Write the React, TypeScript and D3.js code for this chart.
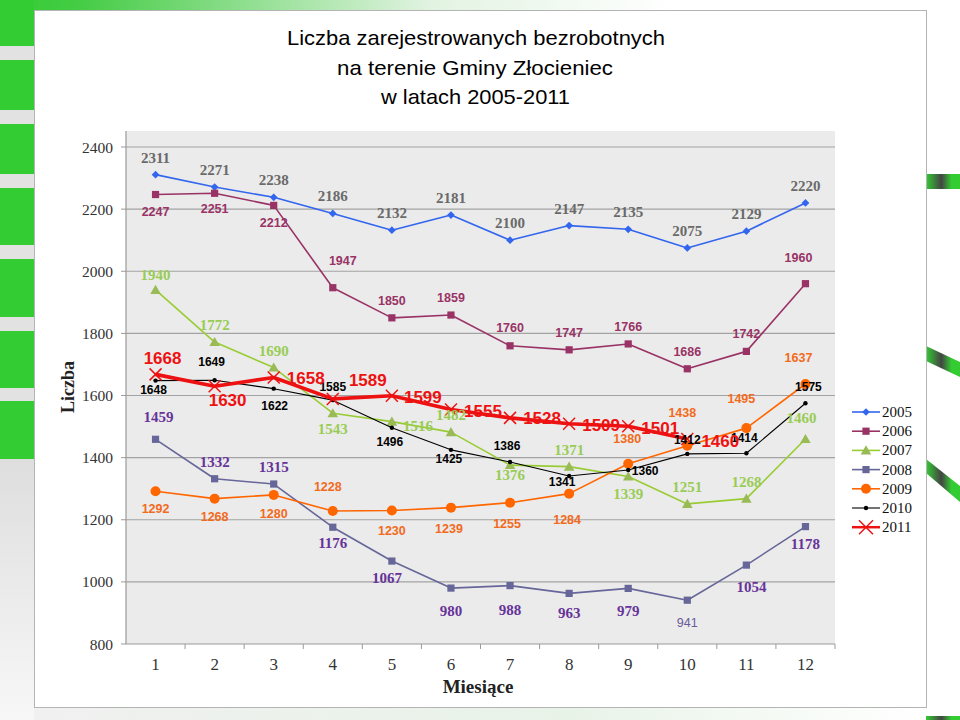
import * as d3 from 'd3'

// ---- data ----
const MONTHS = [1, 2, 3, 4, 5, 6, 7, 8, 9, 10, 11, 12]
const Y_TICKS = [800, 1000, 1200, 1400, 1600, 1800, 2000, 2200, 2400]
const YEARS = ['2005', '2006', '2007', '2008', '2009', '2010', '2011']

const V2005 = [2311, 2271, 2238, 2186, 2132, 2181, 2100, 2147, 2135, 2075, 2129, 2220]
const V2006 = [2247, 2251, 2212, 1947, 1850, 1859, 1760, 1747, 1766, 1686, 1742, 1960]
const V2007 = [1940, 1772, 1690, 1543, 1516, 1482, 1376, 1371, 1339, 1251, 1268, 1460]
const V2008 = [1459, 1332, 1315, 1176, 1067, 980, 988, 963, 979, 941, 1054, 1178]
const V2009 = [1292, 1268, 1280, 1228, 1230, 1239, 1255, 1284, 1380, 1438, 1495, 1637]
const V2010 = [1648, 1649, 1622, 1585, 1496, 1425, 1386, 1341, 1360, 1412, 1414, 1575]
const V2011 = [1668, 1630, 1658, 1589, 1599, 1555, 1528, 1509, 1501, 1460]

const SERIES = [V2005, V2006, V2007, V2008, V2009, V2010, V2011]

// label placement (center offset from the point, px)
const LABEL_OFFSETS: [number, number][][] = [
  MONTHS.map(() => [0, -17] as [number, number]),
  [[0, 17], [0, 16], [0, 18], [10, -27], [0, -17], [0, -17], [0, -18], [0, -17], [0, -17], [0, -17], [0, -17], [-7, -26]],
  [[0, -15], [0, -17], [0, -17], [0, 16], [26, 4], [0, -17], [0, 10], [0, -17], [0, 17], [0, -17], [0, -17], [-4, -21]],
  [[3, -22], [0, -17], [0, -17], [0, 16], [-5, 17], [0, 23], [0, 24], [0, 20], [0, 23], [0, 23], [5, 22], [0, 17]],
  [[0, 18], [0, 18], [0, 19], [-5, -24], [0, 21], [-2, 21], [-3, 21], [-2, 26], [-1, -25], [-5, -33], [-5, -29], [-7, -26]],
  [[-2, 9], [-3, -18], [1, 17], [0, -13], [-2, 14], [-2, 9], [-3, -16], [-7, 6], [17, 1], [0, -14], [-2, -15], [3, -16]],
  [[7, -16], [13, 14], [32, 1], [35, -18], [31, 2], [32, 2], [32, 1], [32, 2], [32, 2], [33, 3]],
]

type Marker = 'diamond' | 'square' | 'triangle' | 'circle' | 'dot' | 'x'

const STYLES: {
  line: string; width: number; marker: Marker; mcolor: string
  lcolor: string; lfont: string; lsize: number
}[] = [
  { line: '#3366ee', width: 1.6, marker: 'diamond', mcolor: '#3366ee', lcolor: '#6a6a6a', lfont: 'Liberation Serif, Times New Roman, serif', lsize: 15 },
  { line: '#993366', width: 1.6, marker: 'square', mcolor: '#993366', lcolor: '#993366', lfont: 'Liberation Sans, Arial, sans-serif', lsize: 12.5 },
  { line: '#99cc33', width: 1.6, marker: 'triangle', mcolor: '#99bb55', lcolor: '#99cc55', lfont: 'Liberation Serif, Times New Roman, serif', lsize: 15 },
  { line: '#666699', width: 1.6, marker: 'square', mcolor: '#666699', lcolor: '#663399', lfont: 'Liberation Serif, Times New Roman, serif', lsize: 15 },
  { line: '#ff6600', width: 1.6, marker: 'circle', mcolor: '#ff6600', lcolor: '#f26a1b', lfont: 'Liberation Sans, Arial, sans-serif', lsize: 12.5 },
  { line: '#000000', width: 1.1, marker: 'dot', mcolor: '#000000', lcolor: '#000000', lfont: 'Liberation Sans, Arial, sans-serif', lsize: 12 },
  { line: '#ee1111', width: 3.6, marker: 'x', mcolor: '#ee1111', lcolor: '#ee1111', lfont: 'Liberation Sans, Arial, sans-serif', lsize: 17 },
]

const W = 960
const H = 720
const PLOT = { left: 126, right: 835, top: 131, bottom: 644 }

const x = d3.scaleBand<number>().domain(MONTHS).range([PLOT.left, PLOT.right]).padding(0)
const y = d3.scaleLinear().domain([800, 2400]).range([644, 147])
const cx = (m: number) => (x(m) ?? 0) + x.bandwidth() / 2

const squarePath = d3.symbol().type(d3.symbolSquare).size(52)()
const diamondPath = d3.symbol().type(d3.symbolSquare).size(30)()
const trianglePath = d3.symbol().type(d3.symbolTriangle).size(48)()

function MarkerShape({ type, px, py, color, big }: { type: Marker; px: number; py: number; color: string; big?: boolean }) {
  const t = `translate(${px},${py})`
  switch (type) {
    case 'diamond':
      return <path d={diamondPath!} transform={`${t} rotate(45)`} fill={color} />
    case 'square':
      return <path d={squarePath!} transform={t} fill={color} />
    case 'triangle':
      return <path d={trianglePath!} transform={`${t} translate(0,1)`} fill={color} />
    case 'circle':
      return <circle cx={px} cy={py} r={5} fill={color} />
    case 'dot':
      return <circle cx={px} cy={py} r={2.2} fill={color} />
    case 'x': {
      const r = big ? 7 : 6
      return (
        <g stroke={color} strokeWidth={1.5}>
          <line x1={px - r} y1={py - r} x2={px + r} y2={py + r} />
          <line x1={px - r} y1={py + r} x2={px + r} y2={py - r} />
        </g>
      )
    }
  }
}

export default function App() {
  const line = d3.line<number>()
    .x((_, i) => cx(MONTHS[i]))
    .y(d => y(d))

  const leftBlocks = [[0, 46], [60, 110], [124, 174], [188, 245], [259, 317], [331, 388], [401, 459]]

  return (
    <svg width={W} height={H} style={{ position: 'absolute', left: 0, top: 0 }}>
      <defs>
        <linearGradient id="topfade" x1="0" x2="1" y1="0" y2="0">
          <stop offset="0" stopColor="#33cc33" />
          <stop offset="0.08" stopColor="#44cc44" />
          <stop offset="0.45" stopColor="#e2f3e2" />
          <stop offset="0.7" stopColor="#ffffff" />
        </linearGradient>
        <linearGradient id="leftfade" x1="0" x2="0" y1="0" y2="1">
          <stop offset="0" stopColor="#dedede" />
          <stop offset="1" stopColor="#f7f7f7" />
        </linearGradient>
        <linearGradient id="ribbon" x1="0" x2="1" y1="0" y2="0">
          <stop offset="0" stopColor="#33cc33" />
          <stop offset="0.45" stopColor="#444444" />
          <stop offset="0.75" stopColor="#33cc33" />
          <stop offset="1" stopColor="#33cc33" />
        </linearGradient>
        <linearGradient id="bottomfade" x1="0" x2="1" y1="0" y2="0">
          <stop offset="0" stopColor="#f0f0f0" />
          <stop offset="0.6" stopColor="#e8f3e8" />
          <stop offset="1" stopColor="#ffffff" />
        </linearGradient>
      </defs>

      {/* slide background */}
      <rect x={0} y={0} width={W} height={H} fill="#ffffff" />
      <rect x={0} y={0} width={W} height={12} fill="url(#topfade)" />
      <rect x={0} y={0} width={34} height={H} fill="#e2e2e2" />
      <rect x={0} y={459} width={34} height={H - 459} fill="url(#leftfade)" />
      {leftBlocks.map(([a, b], i) => (
        <rect key={i} x={0} y={a} width={34} height={b - a} fill="#33cc33" />
      ))}
      <rect x={34} y={707} width={892} height={13} fill="url(#bottomfade)" />
      <polygon points="926,174 960,174 960,189 926,189" fill="url(#ribbon)" />
      <polygon points="926,346 960,362 960,377 926,361" fill="url(#ribbon)" />
      <polygon points="926,459 960,486 960,502 926,473" fill="url(#ribbon)" />
      <polygon points="926,716 960,716 960,720 926,720" fill="url(#ribbon)" />

      {/* chart box */}
      <rect x={34.5} y={10.5} width={892} height={697} fill="#ffffff" stroke="#b4b4b4" />

      {/* title */}
      <g fontFamily="Liberation Sans Narrow, Arial Narrow, Liberation Sans, Arial, sans-serif" fontSize={21} textAnchor="middle" fill="#000">
        <text x={476} y={45} textLength={378} lengthAdjust="spacingAndGlyphs">Liczba zarejestrowanych bezrobotnych</text>
        <text x={475} y={75} textLength={276} lengthAdjust="spacingAndGlyphs">na terenie Gminy Złocieniec</text>
        <text x={475.5} y={104} textLength={189} lengthAdjust="spacingAndGlyphs">w latach 2005-2011</text>
      </g>

      {/* plot area */}
      <rect x={PLOT.left} y={PLOT.top} width={PLOT.right - PLOT.left} height={PLOT.bottom - PLOT.top} fill="#ebebeb" />
      {Y_TICKS.filter(t => t > 800).map(t => (
        <line key={t} x1={PLOT.left} x2={PLOT.right} y1={y(t)} y2={y(t)} stroke="#a3a3a3" strokeWidth={1.2} />
      ))}

      {/* axes */}
      <line x1={PLOT.left} x2={PLOT.left} y1={PLOT.top} y2={PLOT.bottom} stroke="#9a9a9a" strokeWidth={1.2} />
      <line x1={PLOT.left} x2={PLOT.right} y1={PLOT.bottom} y2={PLOT.bottom} stroke="#9a9a9a" strokeWidth={1.2} />
      {Y_TICKS.map(t => (
        <line key={t} x1={PLOT.left - 5} x2={PLOT.left} y1={y(t)} y2={y(t)} stroke="#9a9a9a" />
      ))}
      {MONTHS.map(m => (
        <line key={m} x1={(x(m) ?? 0) + x.bandwidth()} x2={(x(m) ?? 0) + x.bandwidth()} y1={PLOT.bottom} y2={PLOT.bottom + 5} stroke="#9a9a9a" />
      ))}
      <g fontFamily="Liberation Serif, Times New Roman, serif" fontSize={15.5} fill="#333">
        {Y_TICKS.map(t => (
          <text key={t} x={113} y={y(t)} textAnchor="end" dominantBaseline="central">{t}</text>
        ))}
        {MONTHS.map(m => (
          <text key={m} x={cx(m)} y={664} textAnchor="middle" dominantBaseline="central" fontSize={17}>{m}</text>
        ))}
      </g>
      <text x={478} y={693} textAnchor="middle" fontFamily="Liberation Serif, Times New Roman, serif" fontWeight="bold" fontSize={19} fill="#222">Miesiące</text>
      <text transform="translate(74,387) rotate(-90)" textAnchor="middle" fontFamily="Liberation Serif, Times New Roman, serif" fontWeight="bold" fontSize={18} fill="#222">Liczba</text>

      {/* series */}
      {SERIES.map((vals, si) => {
        const s = STYLES[si]
        return (
          <g key={YEARS[si]}>
            <path d={line(vals) ?? ''} fill="none" stroke={s.line} strokeWidth={s.width} strokeLinejoin="round" />
            {vals.map((v, i) => (
              <MarkerShape key={i} type={s.marker} px={cx(MONTHS[i])} py={y(v)} color={s.mcolor} />
            ))}
          </g>
        )
      })}

      {/* data labels */}
      {SERIES.map((vals, si) => {
        const s = STYLES[si]
        return (
          <g key={YEARS[si]} fontFamily={s.lfont} fontSize={s.lsize} fontWeight="bold" fill={s.lcolor} textAnchor="middle">
            {vals.map((v, i) => {
              const [dx, dy] = LABEL_OFFSETS[si][i]
              const odd = si === 3 && v === 941
              return (
                <text key={i} x={cx(MONTHS[i]) + dx} y={y(v) + dy} dominantBaseline="central"
                  {...(odd ? { fontFamily: 'Liberation Sans, Arial, sans-serif', fontSize: 12.5, fontWeight: 'normal', fill: '#6a5a99' } : {})}>
                  {v}
                </text>
              )
            })}
          </g>
        )
      })}

      {/* legend */}
      <g>
        {YEARS.map((yr, i) => {
          const s = STYLES[i]
          const ly = 412 + i * 19.2
          return (
            <g key={yr}>
              <line x1={852} x2={880} y1={ly} y2={ly} stroke={s.line} strokeWidth={Math.min(s.width, 2.5)} />
              <MarkerShape type={s.marker} px={866} py={ly} color={s.mcolor} big />
              <text x={882} y={ly} dominantBaseline="central" fontFamily="Liberation Serif, Times New Roman, serif" fontSize={15} fill="#111">{yr}</text>
            </g>
          )
        })}
      </g>
    </svg>
  )
}
